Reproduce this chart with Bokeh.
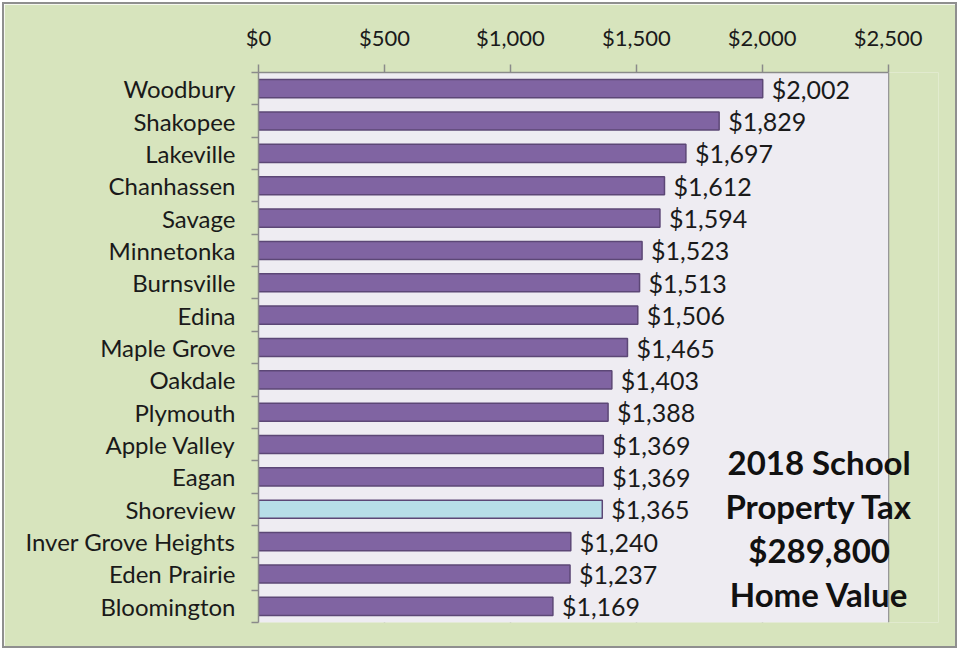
from bokeh.plotting import figure
from bokeh.models import (Range1d, FixedTicker, NumeralTickFormatter, ColumnDataSource,
                          Label, BoxAnnotation)
from bokeh.core.properties import value
from bokeh.embed import file_html
from bokeh.resources import INLINE

cities = ["Woodbury", "Shakopee", "Lakeville", "Chanhassen", "Savage", "Minnetonka",
          "Burnsville", "Edina", "Maple Grove", "Oakdale", "Plymouth", "Apple Valley",
          "Eagan", "Shoreview", "Inver Grove Heights", "Eden Prairie", "Bloomington"]
taxes = [2002, 1829, 1697, 1612, 1594, 1523, 1513, 1506, 1465, 1403, 1388, 1369,
         1369, 1365, 1240, 1237, 1169]
highlight = "Shoreview"
x_ticks = [0, 500, 1000, 1500, 2000, 2500]
note_lines = ["2018 School", "Property Tax", "$289,800", "Home Value"]

FONT = "Lato"
GREEN = "#D7E4BD"
LAVENDER = "#EEECF2"
PURPLE = "#8064A2"
LIGHTBLUE = "#B7DEE8"
OUTLINE = "#5C4776"
GRID = "#8A8A8A"

x_max = x_ticks[-1]
idx = list(range(len(cities)))
src = ColumnDataSource(dict(
    y=idx,
    v=taxes,
    lab=["${:,}".format(t) for t in taxes],
    color=[LIGHTBLUE if c == highlight else PURPLE for c in cities],
))

# frame runs a little past $2,500 so the note can overhang the plot area
p = figure(width=951, height=642, output_backend="svg", toolbar_location=None,
           x_axis_location="above",
           x_range=Range1d(0, 2700), y_range=Range1d(len(cities) - 0.5, -0.5),
           min_border_left=254, min_border_right=17, min_border_top=68, min_border_bottom=24)

p.background_fill_color = GREEN
p.border_fill_color = GREEN
p.outline_line_color = None
p.styles = {"margin-left": "4px", "margin-top": "4px",
            "outline": "2px solid #8F8F8F", "outline-offset": "0px"}

# plot-area background ($0 to $2,500)
p.add_layout(BoxAnnotation(left=0, right=x_max, fill_color=LAVENDER, fill_alpha=1.0,
                           line_color=None, level="underlay"))

p.hbar(y="y", left=0, right="v", height=0.56, source=src,
       fill_color="color", line_color=OUTLINE, line_width=1.5)

p.text(x="v", y="y", text="lab", source=src, x_offset=9,
       text_font=value(FONT), text_font_size="25px", text_color="#1A1A1A",
       text_align="left", text_baseline="middle")

n = len(note_lines)
for k, line in enumerate(note_lines):
    p.add_layout(Label(x=2226, y=13.59, y_offset=((n - 1) / 2 - k) * 44,
                       text=line, text_font=FONT, text_font_size="33px",
                       text_font_style="bold", text_color="#111111",
                       text_align="center", text_baseline="middle"))

# x axis (top)
xa = p.xaxis[0]
xa.bounds = (0, x_max)
xa.ticker = FixedTicker(ticks=x_ticks, minor_ticks=[])
xa.formatter = NumeralTickFormatter(format="$0,0")
xa.axis_line_color = GRID
xa.axis_line_width = 1.5
xa.major_tick_line_color = GRID
xa.major_tick_line_width = 1.5
xa.major_tick_out = 8
xa.major_tick_in = 0
xa.major_label_standoff = 14
xa.major_label_text_font = FONT
xa.major_label_text_font_size = "22px"
xa.major_label_text_color = "#1A1A1A"

# y axis (left)
ya = p.yaxis[0]
ya.ticker = FixedTicker(ticks=idx, minor_ticks=[i - 0.5 for i in range(len(cities) + 1)])
ya.major_label_overrides = {i: c for i, c in enumerate(cities)}
ya.major_tick_line_color = None
ya.major_tick_out = 0
ya.major_tick_in = 0
ya.minor_tick_line_color = GRID
ya.minor_tick_line_width = 1.5
ya.minor_tick_out = 7
ya.minor_tick_in = 0
ya.axis_line_color = GRID
ya.axis_line_width = 1.5
ya.major_label_standoff = 16
ya.major_label_text_font = FONT
ya.major_label_text_font_size = "24px"
ya.major_label_text_color = "#1A1A1A"

p.xgrid.grid_line_color = GRID
p.xgrid.grid_line_width = 1.5
p.ygrid.grid_line_color = None

open("out.html", "w").write(file_html(p, INLINE))
